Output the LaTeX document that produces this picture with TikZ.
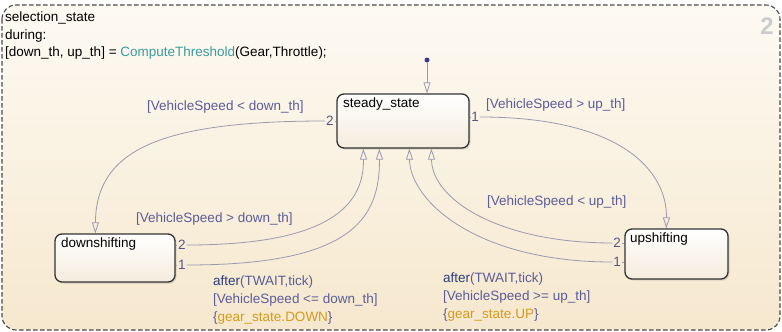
\documentclass[tikz,border=0pt]{standalone}
\usepackage{fontspec}
\setmainfont{Liberation Sans}
\usetikzlibrary{arrows.meta,shadows,calc}
\definecolor{bgtop}{HTML}{FDFAF3}
\definecolor{bgbot}{HTML}{F6E8CE}
\definecolor{statebot}{HTML}{F4ECDD}
\definecolor{lblc}{HTML}{5C5C99}
\definecolor{afterc}{HTML}{2B3C7C}
\definecolor{numc}{HTML}{55558A}
\definecolor{tealc}{HTML}{3A9C9C}
\definecolor{orangec}{HTML}{D49B1C}
\definecolor{connc}{HTML}{9A9AAE}
\definecolor{dotc}{HTML}{3A3A8A}
\definecolor{framec}{HTML}{4A4A4A}
\begin{document}
\begin{tikzpicture}[x=1pt,y=-1pt,
  font=\fontsize{13.5}{16}\selectfont,
  statebox/.style={draw=black!80, line width=1.3pt, rounded corners=7pt,
    top color=white, bottom color=statebot, inner sep=0pt,
    drop shadow={shadow xshift=1.5pt, shadow yshift=-1.5pt, opacity=0.25}},
  txt/.style={anchor=base west, inner sep=0pt},
  lbl/.style={txt, text=lblc},
  num/.style={text=numc, inner sep=0.8pt},
  conn/.style={draw=connc, line width=0.8pt},
  arr/.style={conn, -{Triangle[open,length=11pt,width=7pt]}}]
\useasboundingbox (0,0) rectangle (782,332);
% frame
\shade[top color=bgtop, bottom color=bgbot, rounded corners=14pt] (2,5) rectangle (780,330);
\draw[framec, line width=1.1pt, dash pattern=on 4.5pt off 2.5pt, rounded corners=14pt] (2,5) rectangle (780,330);
\node[text=black!20, font=\fontsize{24}{24}\selectfont\bfseries, inner sep=0pt] (cnt) at (767,26) {2};
% header text
\node[txt] (h1) at (5,21) {selection\_state};
\node[txt] (h2) at (5,39) {during:};
\node[txt] (h3) at (5,56) {[down\_th, up\_th] = \textcolor{tealc}{ComputeThreshold}(Gear,Throttle);};
% states
\node[statebox, minimum width=132pt, minimum height=54pt] (ss) at (403,121) {};
\node[statebox, minimum width=120pt, minimum height=48pt] (ds) at (115,258) {};
\node[statebox, minimum width=103pt, minimum height=50pt] (us) at (676.5,254) {};
\node[txt] (ssl) at (343,107) {steady\_state};
\node[txt] (dsl) at (61,247) {downshifting};
\node[txt] (usl) at (630,242) {upshifting};
% default transition
\node[circle, fill=dotc, inner sep=0pt, minimum size=5pt] (init) at (427,60) {};
\draw[arr] (init) -- (init |- ss.north);
% transition numbers
\node[num] (ss2) at (330,121) {2};
\node[num] (ss1) at (475,117) {1};
\node[num] (ds2) at (182,245) {2};
\node[num] (ds1) at (182,265) {1};
\node[num] (us2) at (617,243) {2};
\node[num] (us1) at (617,262) {1};
\draw[conn] (ss2.east) -- (ss.west |- ss2);
\draw[conn] (ss1.west) -- (ss.east |- ss1);
\draw[conn] (ds2.west) -- (ds.east |- ds2);
\draw[conn] (ds1.west) -- (ds.east |- ds1);
\draw[conn] (us2.east) -- (us.west |- us2);
\draw[conn] (us1.east) -- (us.west |- us1);
% transitions
\draw[arr] (ss2.west) .. controls (160,121) and (96,150) .. ($(ds.north west)+(41,0)$);
\draw[arr] (ss1.east) .. controls (620,117) and (667,170) .. ($(us.north west)+(42,0)$);
\draw[arr] (ds2.east) .. controls (330,245) and (364,205) .. ($(ss.south west)+(27,0)$);
\draw[arr] (ds1.east) .. controls (350,265) and (380,220) .. ($(ss.south west)+(43,0)$);
\draw[arr] (us2.west) .. controls (500,243) and (432,200) .. ($(ss.south west)+(95,0)$);
\draw[arr] (us1.west) .. controls (475,262) and (410,200) .. ($(ss.south west)+(73,0)$);
% labels
\node[lbl] (l1) at (147,110) {[VehicleSpeed < down\_th]};
\node[lbl] (l2) at (486,108) {[VehicleSpeed > up\_th]};
\node[lbl] (l3) at (136,222) {[VehicleSpeed > down\_th]};
\node[lbl] (l4) at (487,205) {[VehicleSpeed < up\_th]};
\node[lbl] (l5a) at (213,285) {\textcolor{afterc}{after}(TWAIT,tick)};
\node[lbl] (l5b) at (213,303) {[VehicleSpeed <= down\_th]};
\node[lbl] (l5c) at (213,321) {\{\textcolor{orangec}{gear\_state.DOWN}\}};
\node[lbl] (l6a) at (443,282) {\textcolor{afterc}{after}(TWAIT,tick)};
\node[lbl] (l6b) at (443,300) {[VehicleSpeed >= up\_th]};
\node[lbl] (l6c) at (443,318) {\{\textcolor{orangec}{gear\_state.UP}\}};
\end{tikzpicture}
\end{document}
